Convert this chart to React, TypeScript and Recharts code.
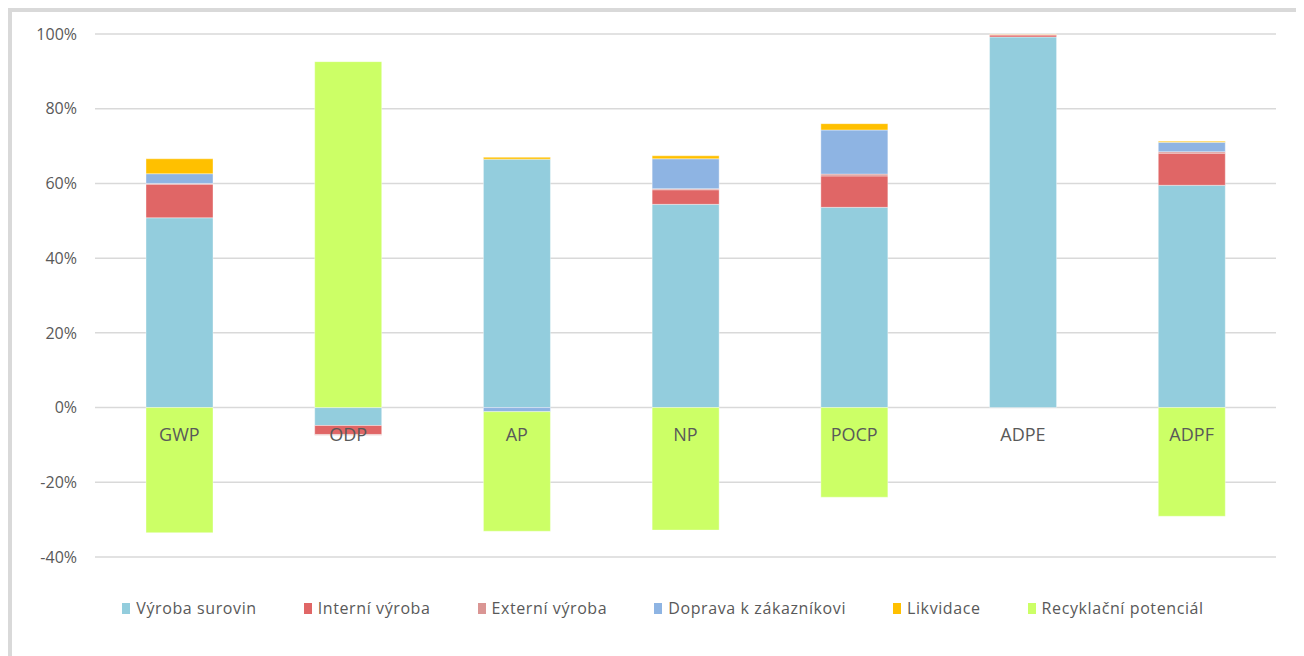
import { BarChart, Bar, XAxis, YAxis, CartesianGrid, Legend, ReferenceDot } from 'recharts';

const categories = ['GWP', 'ODP', 'AP', 'NP', 'POCP', 'ADPE', 'ADPF'];
const vyrobaSurovin = [50.8, -4.8, 66.5, 54.4, 53.6, 99.2, 59.5];
const interniVyroba = [9.0, -2.4, 0, 3.9, 8.4, 0.5, 8.6];
const externiVyroba = [0.2, -0.2, 0, 0.3, 0.5, 0.2, 0.4];
const dopravaKZakaznikovi = [2.6, 0, -1.1, 8.0, 11.8, 0, 2.5];
const likvidace = [4.0, 0, 0.5, 0.8, 1.7, 0.1, 0.3];
const recyklacniPotencial = [-33.5, 92.6, -32.0, -32.8, -24.0, 0, -29.1];
const yTicks = [-40, -20, 0, 20, 40, 60, 80, 100];

const series = [
  { key: 'vyroba', name: 'Výroba surovin', color: '#93CDDD' },
  { key: 'interni', name: 'Interní výroba', color: '#E06666' },
  { key: 'externi', name: 'Externí výroba', color: '#DA9694' },
  { key: 'doprava', name: 'Doprava k zákazníkovi', color: '#8EB4E3' },
  { key: 'likvidace', name: 'Likvidace', color: '#FFC000' },
  { key: 'recyklace', name: 'Recyklační potenciál', color: '#CCFF66' },
];

const data = categories.map((name, i) => ({
  name,
  vyroba: vyrobaSurovin[i],
  interni: interniVyroba[i],
  externi: externiVyroba[i],
  doprava: dopravaKZakaznikovi[i],
  likvidace: likvidace[i],
  recyklace: recyklacniPotencial[i],
}));

const textColor = '#595959';
const gridColor = '#D9D9D9';

const LegendContent = () => (
  <div style={{ display: 'flex', justifyContent: 'center', gap: 47, marginLeft: 14 }}>
    {series.map((s) => (
      <div
        key={s.key}
        style={{ display: 'flex', alignItems: 'center', color: textColor, fontSize: 16, letterSpacing: 0.6 }}
      >
        <span style={{ display: 'inline-block', width: 8, height: 11, background: s.color, marginRight: 6 }} />
        {s.name}
      </div>
    ))}
  </div>
);

const App = () => {
  return (
    <div
      style={{
        width: 1288,
        height: 660,
        border: `4px solid ${gridColor}`,
        background: '#ffffff',
        fontFamily: '"Open Sans", sans-serif',
      }}
    >
      <BarChart
        width={1288}
        height={644}
        data={data}
        barSize={67}
        stackOffset="sign"
        margin={{ top: 22, right: 24, left: 0, bottom: 77 }}
      >
        <CartesianGrid vertical={false} stroke={gridColor} strokeWidth={1.5} />
        <XAxis dataKey="name" hide />
        <YAxis
          domain={[-40, 100]}
          ticks={yTicks}
          width={83}
          axisLine={false}
          tickLine={false}
          tickMargin={12}
          tick={{ fill: textColor, fontSize: 16 }}
          tickFormatter={(v: number) => `${v}%`}
        />
        {series.map((s) => (
          <Bar
            key={s.key}
            dataKey={s.key}
            name={s.name}
            stackId="a"
            fill={s.color}
            stroke="#ffffff"
            strokeOpacity={0.5}
            strokeWidth={0.75}
            isAnimationActive={false}
          />
        ))}
        {categories.map((c) => (
          <ReferenceDot
            key={c}
            x={c}
            y={0}
            r={0}
            fill="none"
            stroke="none"
            label={{ value: c, position: 'bottom', offset: 21, fill: textColor, fontSize: 18 }}
          />
        ))}
        <Legend
          content={<LegendContent />}
          wrapperStyle={{ top: 585, left: 0, width: 1288 }}
        />
      </BarChart>
    </div>
  );
};

export default App;
